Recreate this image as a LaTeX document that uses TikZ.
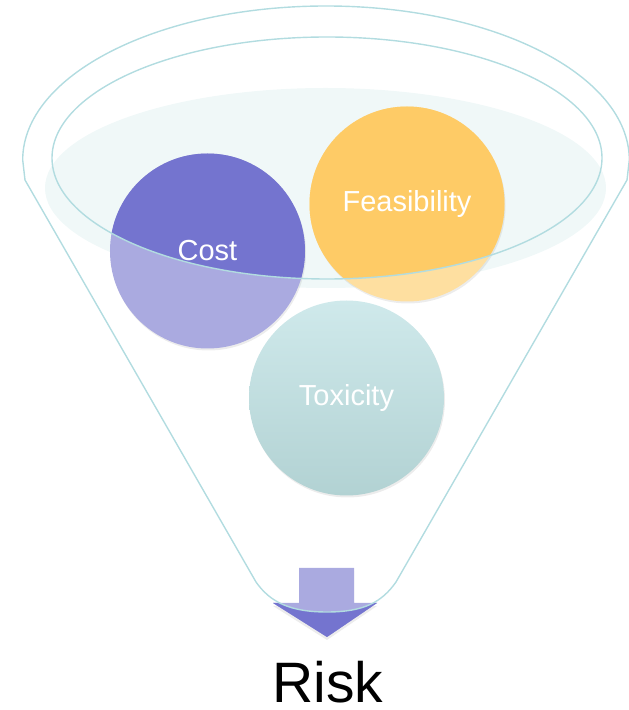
\documentclass[tikz,border=0pt]{standalone}
\usepackage{fontspec}
\setmainfont{Liberation Sans}
\usetikzlibrary{shadows}
\definecolor{rim}{HTML}{B2DCE0}
\definecolor{liquid}{HTML}{F0F8F8}
\definecolor{costdk}{HTML}{7474CF}
\definecolor{costlt}{HTML}{AAAAE0}
\definecolor{feasdk}{HTML}{FECB66}
\definecolor{feaslt}{HTML}{FEDFA0}
\definecolor{toxtop}{HTML}{CFE9EB}
\definecolor{toxbot}{HTML}{B2D2D3}

\begin{document}
\begin{tikzpicture}[x=1pt, y=1pt,
  rimline/.style={draw=rim, line width=1.4pt},
  ball/.style={circle, minimum size=195pt, inner sep=0pt,
               drop shadow={shadow xshift=1pt, shadow yshift=-2pt, opacity=.15}},
  lbl/.style={text=white, font=\fontsize{29}{34}\selectfont},
]
\useasboundingbox (0,0) rectangle (629,710);

% liquid in the funnel
\fill[liquid] (325.5,522) ellipse[x radius=280.5, y radius=100];

% balls, pale outside the rim
\node[ball, fill=costlt] (cost) at (207.5,459) {};
\node[ball, fill=feaslt] (feas) at (407,506) {};
\node[ball, top color=toxtop, bottom color=toxbot] (tox) at (346.5,312) {};
\begin{scope}
  \clip (327,552) ellipse[x radius=275, y radius=121];
  \fill[costdk] (cost.center) circle[radius=97.5];
  \fill[feasdk] (feas.center) circle[radius=97.5];
\end{scope}
\node[lbl] at (cost) {Cost};
\node[lbl] at (feas) {Feasibility};
\node[lbl] at (tox) {Toxicity};

% outlet arrow
\coordinate (tip) at (327,73);
\fill[costlt, drop shadow={shadow xshift=0pt, shadow yshift=-3pt, opacity=.15}]
  (299,142) -- (354,142) -- (354,107) -- (377,107) -- (tip) -- (273,107) -- (299,107) -- cycle;
\begin{scope}
  \clip (256,128) .. controls (270,108) and (290,98) .. (327,98)
        .. controls (364,98) and (382,108) .. (396,128) -- (396,60) -- (256,60) -- cycle;
  \fill[costdk] (273,107) -- (377,107) -- (tip) -- cycle;
\end{scope}

% rim and funnel body
\draw[rimline] (327,552) ellipse[x radius=275, y radius=121];
\draw[rimline] (25,530) -- (22.7,550) arc[start angle=180, end angle=0, x radius=303.3, y radius=154]
  -- (627,530) -- (396,128) .. controls (382,108) and (364,98) .. (327,98)
  .. controls (290,98) and (270,108) .. (256,128) -- cycle;

\node[font=\fontsize{57}{66}\selectfont, inner sep=0pt, anchor=base] (risk) at (328,8) {Risk};
\end{tikzpicture}
\end{document}
